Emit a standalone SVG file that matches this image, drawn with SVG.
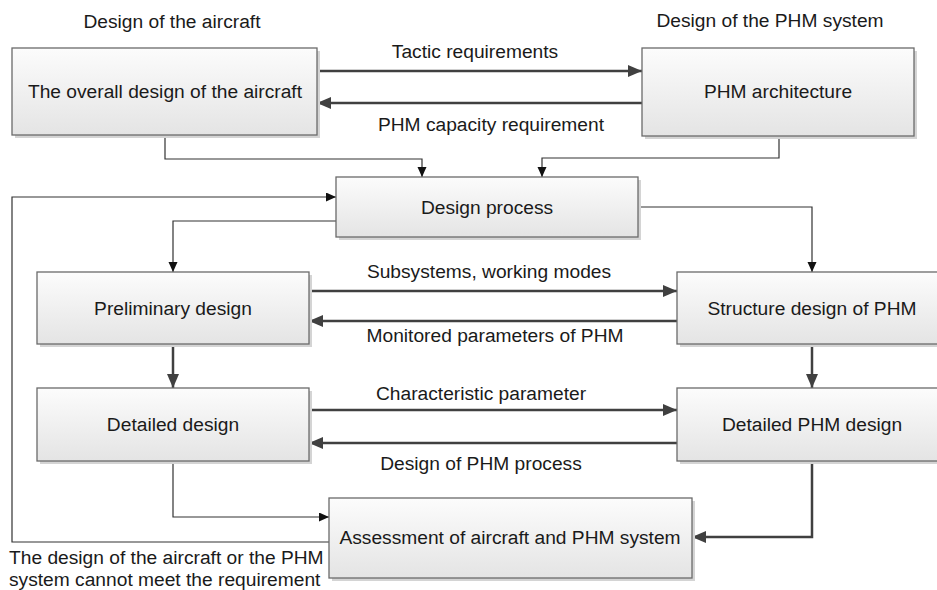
<svg xmlns="http://www.w3.org/2000/svg" width="937" height="590" viewBox="0 0 937 590">
<defs>
<linearGradient id="g" x1="0" y1="0" x2="0" y2="1">
<stop offset="0" stop-color="#fcfcfc"/>
<stop offset="1" stop-color="#e4e4e4"/>
</linearGradient>
<marker id="ak" markerUnits="userSpaceOnUse" markerWidth="15" markerHeight="13" refX="14" refY="6" orient="auto">
<path d="M0,0 L14,6 L0,12 z" fill="#404040"/>
</marker>
<marker id="an" markerUnits="userSpaceOnUse" markerWidth="11" markerHeight="10" refX="10" refY="4.5" orient="auto">
<path d="M0,0 L10,4.5 L0,9 z" fill="#111"/>
</marker>
</defs>
<style>
text{font-family:"Liberation Sans",Arial,sans-serif;font-size:19.2px;fill:#1a1a1a}
.c{text-anchor:middle}
.box{fill:url(#g);stroke:#6a6a6a;stroke-width:1.3}
.sh{fill:#d4d4d4}
.thick{fill:none;stroke:#404040;stroke-width:2.5;marker-end:url(#ak)}
.thin{fill:none;stroke:#333;stroke-width:1.2;marker-end:url(#an)}
</style>

<text class="c" x="172" y="28">Design of the aircraft</text>
<text class="c" x="770" y="27">Design of the PHM system</text>

<g id="connectors">
<path class="thick" d="M317,71 H642"/>
<path class="thick" d="M642,103 H317"/>
<path class="thin" d="M165,136 V159 H422 V177"/>
<path class="thin" d="M779,137 V158 H542 V177"/>
<path class="thin" d="M329,542 H12 V197 H336"/>
<path class="thin" d="M336,221 H173 V272"/>
<path class="thin" d="M638,207 H812 V272"/>
<path class="thick" d="M309,291 H677"/>
<path class="thick" d="M677,321 H309"/>
<path class="thick" d="M173,345 V388"/>
<path class="thick" d="M812,345 V388"/>
<path class="thick" d="M309,410 H677"/>
<path class="thick" d="M677,443 H309"/>
<path class="thin" d="M173,462 V517 H329"/>
<path class="thick" d="M812,462 V537 H692"/>
<text class="c" x="475" y="58">Tactic requirements</text>
<text class="c" x="491" y="131">PHM capacity requirement</text>
<text class="c" x="489" y="278">Subsystems, working modes</text>
<text class="c" x="495" y="342">Monitored parameters of PHM</text>
<text class="c" x="481" y="400">Characteristic parameter</text>
<text class="c" x="481" y="470">Design of PHM process</text>
<text x="9" y="564">The design of the aircraft or the PHM</text>
<text x="9" y="586">system cannot meet the requirement</text>
</g>

<g id="overall">
<rect class="sh" x="15" y="51" width="305" height="87"/>
<rect class="box" x="12" y="48" width="305" height="87"/>
<text class="c" x="165" y="98">The overall design of the aircraft</text>
</g>
<g id="phm-arch">
<rect class="sh" x="645" y="51" width="272" height="88"/>
<rect class="box" x="642" y="48" width="272" height="88"/>
<text class="c" x="778" y="98">PHM architecture</text>
</g>
<g id="design-process">
<rect class="sh" x="339" y="180" width="302" height="60"/>
<rect class="box" x="336" y="177" width="302" height="60"/>
<text class="c" x="487" y="214">Design process</text>
</g>
<g id="preliminary">
<rect class="sh" x="40" y="275" width="272" height="72"/>
<rect class="box" x="37" y="272" width="272" height="72"/>
<text class="c" x="173" y="315">Preliminary design</text>
</g>
<g id="structure">
<rect class="sh" x="680" y="275" width="260" height="72"/>
<rect class="box" x="677" y="272" width="262" height="72"/>
<text class="c" x="812" y="315">Structure design of PHM</text>
</g>
<g id="detailed">
<rect class="sh" x="40" y="391" width="272" height="73"/>
<rect class="box" x="37" y="388" width="272" height="73"/>
<text class="c" x="173" y="431">Detailed design</text>
</g>
<g id="detailed-phm">
<rect class="sh" x="680" y="391" width="260" height="73"/>
<rect class="box" x="677" y="388" width="262" height="73"/>
<text class="c" x="812" y="431">Detailed PHM design</text>
</g>
<g id="assessment">
<rect class="sh" x="332" y="501" width="363" height="80"/>
<rect class="box" x="329" y="498" width="363" height="80"/>
<text class="c" x="510" y="544">Assessment of aircraft and PHM system</text>
</g>
</svg>
